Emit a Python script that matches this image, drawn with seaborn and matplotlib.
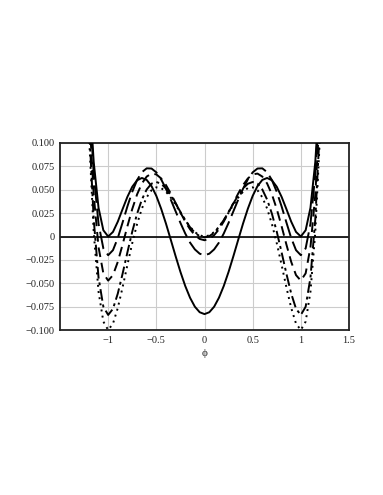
import numpy as np
import pandas as pd
import matplotlib
matplotlib.use("Agg")
import matplotlib.pyplot as plt
import seaborn as sns
from matplotlib.ticker import FixedLocator, FuncFormatter

# phi >= 0 (curves are even in phi, the negative side is mirrored)
phi_half = [0.00, 0.05, 0.10, 0.15, 0.20, 0.25, 0.30, 0.35, 0.40, 0.45,
            0.50, 0.55, 0.60, 0.65, 0.70, 0.75, 0.80, 0.85, 0.90, 0.95,
            1.00, 1.05, 1.10, 1.15, 1.20, 1.25]

v_solid = [-0.0830, -0.0810, -0.0751, -0.0655, -0.0529, -0.0378, -0.0210, -0.0035,
           0.0138, 0.0297, 0.0434, 0.0539, 0.0605, 0.0626, 0.0601, 0.0532, 0.0425,
           0.0294, 0.0159, 0.0049, 0.0000, 0.0067, 0.0307, 0.0796, 0.1625, 0.2903]
v_longdash = [-0.0200, -0.0184, -0.0138, -0.0065, 0.0032, 0.0146, 0.0270, 0.0394,
              0.0511, 0.0611, 0.0686, 0.0727, 0.0729, 0.0688, 0.0603, 0.0478, 0.0323,
              0.0151, -0.0016, -0.0146, -0.0200, -0.0127, 0.0136, 0.0667, 0.1556, 0.2915]
v_dash = [-0.0040, -0.0026, 0.0014, 0.0077, 0.0160, 0.0257, 0.0359, 0.0460,
          0.0550, 0.0621, 0.0664, 0.0673, 0.0641, 0.0567, 0.0450, 0.0294, 0.0111,
          -0.0085, -0.0271, -0.0413, -0.0472, -0.0394, -0.0114, 0.0446, 0.1382, 0.2804]
v_dashdot = [-0.0010, 0.0003, 0.0040, 0.0099, 0.0176, 0.0263, 0.0354, 0.0441,
             0.0514, 0.0564, 0.0583, 0.0565, 0.0503, 0.0395, 0.0243, 0.0052, -0.0168,
             -0.0397, -0.0610, -0.0773, -0.0839, -0.0751, -0.0439, 0.0183, 0.1218, 0.2786]
v_dotted = [0.0000, 0.0012, 0.0047, 0.0103, 0.0174, 0.0255, 0.0339, 0.0416,
            0.0479, 0.0518, 0.0526, 0.0495, 0.0420, 0.0299, 0.0133, -0.0071, -0.0302,
            -0.0542, -0.0764, -0.0932, -0.1000, -0.0910, -0.0590, 0.0046, 0.1103, 0.2703]

curves = [
    ("solid", v_solid, "-"),
    ("long dash", v_longdash, (0, (9, 3))),
    ("dash", v_dash, (0, (5, 3))),
    ("dash dot", v_dashdot, (0, (6, 2, 1.5, 2))),
    ("dotted", v_dotted, (0, (1, 2.2))),
]

x_ticks = [-1, -0.5, 0, 0.5, 1, 1.5]
y_ticks = [-0.100, -0.075, -0.050, -0.025, 0, 0.025, 0.050, 0.075, 0.100]

sns.set_style("whitegrid")
plt.rcParams["font.family"] = ["Liberation Serif", "DejaVu Serif"]
plt.rcParams["axes.unicode_minus"] = True

fig = plt.figure(figsize=(3.83, 4.95), dpi=100)
ax = fig.add_axes([60 / 383, 1 - 330 / 495, 289 / 383, 187 / 495])

rows = []
for name, vals, _ in curves:
    half = pd.DataFrame({"phi": phi_half, "V": vals})
    neg = half.iloc[1:].iloc[::-1].copy()
    neg["phi"] = -neg["phi"]
    full = pd.concat([neg, half], ignore_index=True)
    full["curve"] = name
    rows.append(full)
df = pd.concat(rows, ignore_index=True)

ax.axhline(0, color="black", linewidth=1.2, zorder=2)
for name, _, ls in curves:
    sub = df[df["curve"] == name]
    sns.lineplot(data=sub, x="phi", y="V", ax=ax, color="black",
                 linewidth=1.4, linestyle=ls, sort=True, estimator=None,
                 zorder=3)

ax.set_xlim(-1.5, 1.5)
ax.set_ylim(-0.1, 0.1)
ax.xaxis.set_major_locator(FixedLocator(x_ticks))
ax.yaxis.set_major_locator(FixedLocator(y_ticks))


def yfmt(v, pos):
    if abs(v) < 1e-9:
        return "0"
    return f"{v:.3f}".replace("-", "\u2212")


def xfmt(v, pos):
    if abs(v) < 1e-9:
        return "0"
    return f"{v:g}".replace("-", "\u2212")


ax.yaxis.set_major_formatter(FuncFormatter(yfmt))
ax.xaxis.set_major_formatter(FuncFormatter(xfmt))
ax.tick_params(axis="both", length=0, labelsize=7.5, colors="#222222", pad=4)
ax.grid(True, color="#cccccc", linewidth=0.8)
for sp in ax.spines.values():
    sp.set_color("#222222")
    sp.set_linewidth(1.3)

ax.set_xlabel("\u03d5", fontsize=8, labelpad=3)
ax.set_ylabel("")
if ax.get_legend() is not None:
    ax.get_legend().remove()

fig.savefig("out.png", dpi=100)
